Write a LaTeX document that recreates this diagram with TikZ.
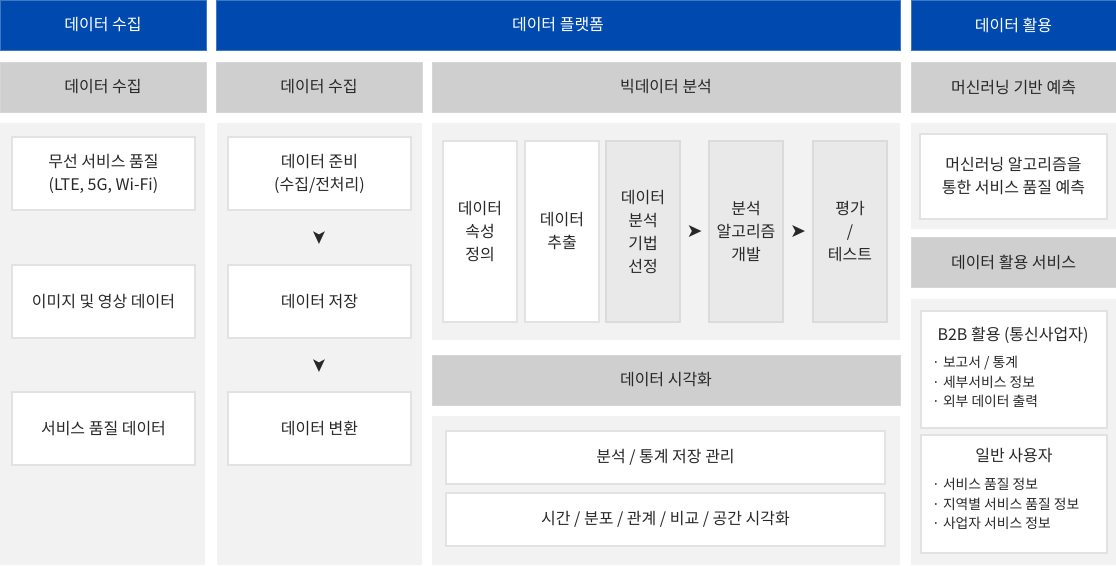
\documentclass[tikz,border=0pt]{standalone}
\usepackage{fontspec}
\setmainfont{Noto Sans CJK KR}
\newfontfamily\symfont{DejaVu Sans}
\definecolor{hdrblue}{RGB}{0,74,175}
\definecolor{subgray}{RGB}{207,207,207}
\definecolor{pnlgray}{RGB}{242,242,242}
\definecolor{boxline}{RGB}{226,226,226}
\definecolor{stepgray}{RGB}{233,233,233}
\definecolor{txt}{RGB}{40,40,40}
\begin{document}
\begin{tikzpicture}[x=1pt,y=-1pt,
  hdr/.style={fill=hdrblue,draw=hdrblue!75!white,line width=0.8,text=white,minimum height=50,inner sep=0,font=\fontsize{16}{23}\selectfont},
  sub/.style={fill=subgray,draw=subgray!85!white,line width=0.8,text=txt,minimum height=50,inner sep=0,font=\fontsize{16}{23}\selectfont},
  pnl/.style={fill=pnlgray},
  box/.style={fill=white,draw=boxline,line width=1.2,text=txt,inner sep=0,align=center,font=\fontsize{16}{23}\selectfont},
  stepbox/.style={box,fill=stepgray,draw=boxline!97!black},
  arr/.style={text=txt,inner sep=0,font=\symfont\fontsize{19}{19}\selectfont},
  lst/.style={text=txt,inner sep=0,align=left,anchor=west,font=\fontsize{13.8}{19.5}\selectfont}]
\def\hw{205};
\def\bw{183};
\def\bh{73};
\useasboundingbox[fill=white] (0,0) rectangle (1116,565);
% top headers
\node[hdr,minimum width=206] (H1) at (103,25) {데이터 수집};
\node[hdr,minimum width=684] (H2) at (558,25) {데이터 플랫폼};
\node[hdr,minimum width=\hw] (H3) at (1013.5,25) {데이터 활용};
% sub headers
\node[sub,minimum width=206] (S1) at (103,87) {데이터 수집};
\node[sub,minimum width=206] (S2) at (319,87) {데이터 수집};
\node[sub,minimum width=468] (S3) at (666,87) {빅데이터 분석};
\node[sub,minimum width=\hw] (S4) at (1013.5,87) {머신러닝 기반 예측};
% panels
\fill[pnl] (0,123) rectangle (205,565);
\fill[pnl] (217,123) rectangle (422,565);
\fill[pnl] (432,123) rectangle (900,340);
\fill[pnl] (432,416) rectangle (900,565);
\fill[pnl] (911,123) rectangle (1116,229);
\fill[pnl] (911,299) rectangle (1116,565);
\node[sub,minimum width=468] (S5) at (666,380) {데이터 시각화};
\node[sub,minimum width=\hw] (S6) at (1013.5,262) {데이터 활용 서비스};
% collection
\node[box,minimum width=\bw,minimum height=\bh] (A1) at (103.5,173.5) {무선 서비스 품질\\(LTE, 5G, Wi-Fi)};
\node[box,minimum width=\bw,minimum height=\bh] (A2) at (103.5,301.5) {이미지 및 영상 데이터};
\node[box,minimum width=\bw,minimum height=\bh] (A3) at (103.5,428.5) {서비스 품질 데이터};
% platform: collection
\node[box,minimum width=\bw,minimum height=\bh] (B1) at (319.5,173.5) {데이터 준비\\(수집/전처리)};
\node[box,minimum width=\bw,minimum height=\bh] (B2) at (319.5,301.5) {데이터 저장};
\node[box,minimum width=\bw,minimum height=\bh] (B3) at (319.5,428.5) {데이터 변환};
\path (B1) -- node[arr,rotate=-90] (AB1) {➤} (B2);
\path (B2) -- node[arr,rotate=-90] (AB2) {➤} (B3);
% platform: analysis
\node[box,minimum width=74,minimum height=181] (C1) at (480,231.5) {데이터\\속성\\정의};
\node[box,minimum width=74,minimum height=181] (C2) at (562,231.5) {데이터\\추출};
\node[stepbox,minimum width=74,minimum height=181] (C3) at (643,231.5) {데이터\\분석\\기법\\선정};
\node[stepbox,minimum width=74,minimum height=181] (C4) at (746,231.5) {분석\\알고리즘\\개발};
\node[stepbox,minimum width=74,minimum height=181] (C5) at (850,231.5) {평가\\/\\테스트};
\path (C3) -- node[arr] (AC1) {➤} (C4);
\path (C4) -- node[arr] (AC2) {➤} (C5);
% platform: visualization
\node[box,minimum width=439,minimum height=53] (V1) at (665.5,457.5) {분석 / 통계 저장 관리};
\node[box,minimum width=439,minimum height=53] (V2) at (665.5,519.5) {시간 / 분포 / 관계 / 비교 / 공간 시각화};
% usage
\node[box,minimum width=187,minimum height=85] (D1) at (1013.5,176.5) {머신러닝 알고리즘을\\통한 서비스 품질 예측};
\node[box,minimum width=186,minimum height=117] (E1) at (1014,369.5) {};
\node[box,minimum width=186,minimum height=118] (E2) at (1014,494) {};
\node[text=txt,font=\fontsize{16}{20}\selectfont] (E1T) at (1013,335) {B2B 활용 (통신사업자)};
\node[lst] (E1L) at (932,382) {· 보고서 / 통계\\· 세부서비스 정보\\· 외부 데이터 출력};
\node[text=txt,font=\fontsize{16}{20}\selectfont] (E2T) at (1014,456) {일반 사용자};
\node[lst] (E2L) at (932,504) {· 서비스 품질 정보\\· 지역별 서비스 품질 정보\\· 사업자 서비스 정보};
\end{tikzpicture}
\end{document}
